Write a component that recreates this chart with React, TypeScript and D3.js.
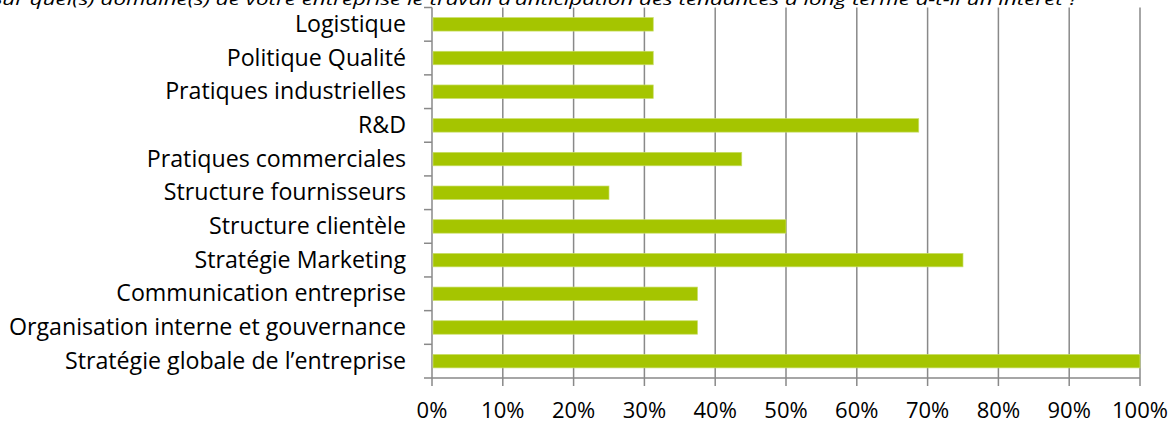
import React from "react";
import * as d3 from "d3";

const title =
  "Sur quel(s) domaine(s) de votre entreprise le travail d’anticipation des tendances à long terme a-t-il un intérêt ?";

const categories = [
  "Logistique",
  "Politique Qualité",
  "Pratiques industrielles",
  "R&D",
  "Pratiques commerciales",
  "Structure fournisseurs",
  "Structure clientèle",
  "Stratégie Marketing",
  "Communication entreprise",
  "Organisation interne et gouvernance",
  "Stratégie globale de l’entreprise",
];

const values = [31.25, 31.25, 31.25, 68.75, 43.75, 25, 50, 75, 37.5, 37.5, 100];

const xTicks = [0, 10, 20, 30, 40, 50, 60, 70, 80, 90, 100];

const W = 1173;
const H = 423;
const left = 432;
const right = 1140;
const top = 7.5;
const bottom = 378;
const FONT = "'Open Sans', 'Noto Sans', sans-serif";
const GRID = "#898989";
const BAR = "#A5C500";

export default function App() {
  const x = d3.scaleLinear().domain([0, 100]).range([left, right]);
  const y = d3
    .scaleBand<string>()
    .domain(categories)
    .range([top, bottom])
    .paddingInner(0.6)
    .paddingOuter(0.3);
  const bandStart = (i: number) => top + i * ((bottom - top) / categories.length);

  return (
    <svg
      width={W}
      height={H}
      style={{ position: "absolute", left: 0, top: 0, background: "#fff" }}
      fontFamily={FONT}
    >
      <text
        x={-9}
        y={4.5}
        fontSize={17}
        fontStyle="italic"
        fill="#000"
        textLength={1087}
        lengthAdjust="spacingAndGlyphs"
      >
        {title}
      </text>
      {/* grid lines */}
      {xTicks.slice(1).map((t) => (
        <line
          key={"g" + t}
          x1={x(t)}
          x2={x(t)}
          y1={top}
          y2={bottom + 8}
          stroke={GRID}
          strokeWidth={1.5}
        />
      ))}
      {/* bottom axis */}
      <line x1={left} x2={right} y1={bottom} y2={bottom} stroke={GRID} strokeWidth={1.5} />
      <line x1={left} x2={left} y1={bottom} y2={bottom + 8} stroke={GRID} strokeWidth={1.5} />
      {/* left axis */}
      <line x1={left} x2={left} y1={top} y2={bottom} stroke={GRID} strokeWidth={1.5} />
      {categories.map((c, i) => (
        <line
          key={"t" + i}
          x1={left - 8}
          x2={left}
          y1={bandStart(i)}
          y2={bandStart(i)}
          stroke={GRID}
          strokeWidth={1.5}
        />
      ))}
      <line x1={left - 8} x2={left} y1={bottom} y2={bottom} stroke={GRID} strokeWidth={1.5} />
      {/* bars */}
      {categories.map((c, i) => (
        <rect
          key={"b" + i}
          x={x(0) + 1}
          y={y(c)!}
          width={x(values[i]) - x(0) - 1}
          height={y.bandwidth()}
          fill={BAR}
          stroke="#c9de6a"
          strokeWidth={0.7}
        />
      ))}
      {/* category labels */}
      {categories.map((c) => (
        <text
          key={"l" + c}
          x={406}
          y={y(c)! + y.bandwidth() / 2}
          dy="0.33em"
          textAnchor="end"
          fontSize={23.2}
          fill="#000"
        >
          {c}
        </text>
      ))}
      {/* x tick labels */}
      {xTicks.map((t) => (
        <text key={"x" + t} x={x(t)} y={417.5} textAnchor="middle" fontSize={22} fill="#000">
          {t + "%"}
        </text>
      ))}
    </svg>
  );
}
